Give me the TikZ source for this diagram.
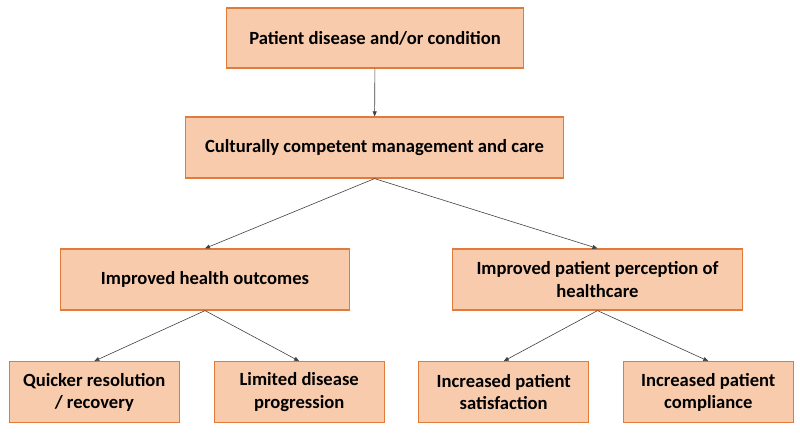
\documentclass[tikz,border=0pt]{standalone}
\usepackage{fontspec}
\setmainfont{Carlito}
\usetikzlibrary{arrows.meta}
\definecolor{boxfill}{HTML}{F8CBAD}
\definecolor{boxline}{HTML}{E07B3C}
\begin{document}
\begin{tikzpicture}[x=1pt,y=-1pt,
  box/.style={draw=boxline, line width=1.2pt, fill=boxfill, align=center,
    font=\fontsize{18.6}{22.5}\selectfont\bfseries, inner sep=0pt, minimum height=61pt},
  leaf/.style={box, minimum width=170pt},
  link/.style={draw=black!75, line width=0.6pt, -{Triangle[length=5pt,width=4pt]}}]
\useasboundingbox (0,0) rectangle (800,436);
% top levels
\node[box, minimum width=297pt, minimum height=60pt] (P) at (375,38) {Patient disease and/or condition};
\node[box, minimum width=378pt] (C) at (374.5,147.5) {Culturally competent management and care};
\node[box, minimum width=289pt] (H) at (205,279.5) {Improved health outcomes};
\node[box, minimum width=290pt] (Q) at (597.5,279.5) {Improved patient perception of\\healthcare};
% leaves
\node[leaf] (R) at (94.3,392.2) {Quicker resolution\\/ recovery};
\node[leaf] (L) at (299.2,392.2) {Limited disease\\progression};
\node[leaf] (S) at (503.7,392.2) {Increased patient\\satisfaction};
\node[leaf] (M) at (708.3,392.2) {Increased patient\\compliance};
% connectors
\draw[link] (P) -- (C);
\draw[link] (C.south) -- (H.north);
\draw[link] (C.south) -- (Q.north);
\draw[link] (H.south) -- (R.north);
\draw[link] (H.south) -- (L.north);
\draw[link] (Q.south) -- (S.north);
\draw[link] (Q.south) -- (M.north);
\end{tikzpicture}
\end{document}
